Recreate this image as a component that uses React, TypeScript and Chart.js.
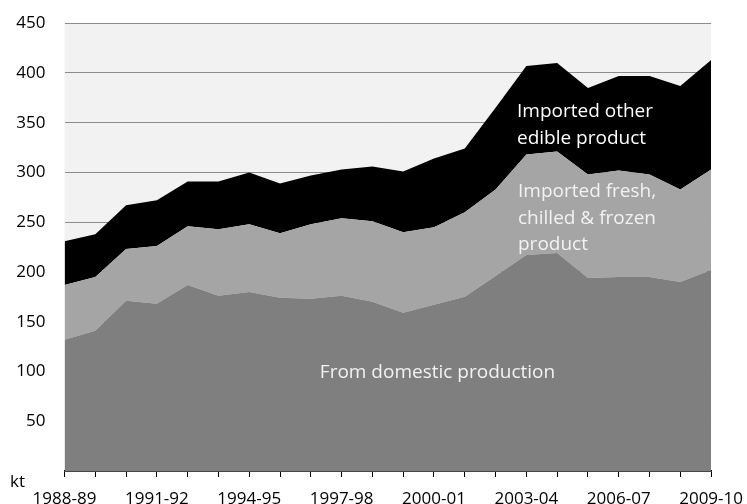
import React, { useEffect, useRef } from "react";
import { Chart, registerables } from "chart.js";

Chart.register(...registerables);

const years = [
  "1988-89", "1989-90", "1990-91", "1991-92", "1992-93", "1993-94", "1994-95", "1995-96",
  "1996-97", "1997-98", "1998-99", "1999-00", "2000-01", "2001-02", "2002-03", "2003-04",
  "2004-05", "2005-06", "2006-07", "2007-08", "2008-09", "2009-10",
];

const domestic = [132, 141, 171, 168, 187, 176, 180, 174, 173, 176, 170, 159, 167, 175, 196, 217, 219, 194, 195, 195, 190, 202];
const freshChilledFrozen = [55, 54, 52, 58, 59, 67, 68, 65, 75, 78, 81, 81, 78, 85, 87, 101, 102, 104, 107, 103, 93, 101];
const otherEdible = [44, 43, 44, 46, 45, 48, 52, 50, 49, 49, 55, 61, 69, 64, 82, 89, 89, 87, 95, 99, 104, 110];

const FONT = "'Open Sans', sans-serif";
const SHIFT_Y = 6;
const EXTRA_W = 8;

const labelsPlugin = {
  id: "areaLabels",
  beforeDraw(chart: any) {
    const { ctx, chartArea } = chart;
    ctx.save();
    ctx.fillStyle = "#f2f2f2";
    ctx.fillRect(chartArea.left, chartArea.top, chartArea.right - chartArea.left, chartArea.bottom - chartArea.top);
    ctx.restore();
  },
  afterDatasetsDraw(chart: any) {
    const { ctx } = chart;
    ctx.save();
    ctx.translate(0, SHIFT_Y);
    ctx.font = `19px ${FONT}`;
    ctx.textBaseline = "alphabetic";
    ctx.fillStyle = "#ffffff";
    ctx.textAlign = "left";
    ctx.fillText("Imported other", 517, 117);
    ctx.fillText("edible product", 517, 143.5);
    ctx.fillStyle = "#f2f2f2";
    ctx.fillText("Imported fresh,", 518, 197);
    ctx.fillText("chilled & frozen", 518, 223.5);
    ctx.fillText("product", 518, 250);
    ctx.textAlign = "center";
    ctx.fillText("From domestic production", 437.5, 377.5);
    ctx.fillStyle = "#000000";
    ctx.textAlign = "left";
    ctx.font = `17px ${FONT}`;
    ctx.fillText("kt", 10, 487);
    ctx.restore();
  },
};

export default function App() {
  const ref = useRef<HTMLCanvasElement>(null);
  useEffect(() => {
    if (!ref.current) return;
    const chart = new Chart(ref.current, {
      type: "line",
      data: {
        labels: years,
        datasets: [
          {
            label: "From domestic production",
            data: domestic,
            backgroundColor: "#7f7f7f",
            borderWidth: 0,
            pointRadius: 0,
            fill: "origin",
          },
          {
            label: "Imported fresh, chilled & frozen product",
            data: freshChilledFrozen,
            backgroundColor: "#a5a5a5",
            borderWidth: 0,
            pointRadius: 0,
            fill: "-1",
          },
          {
            label: "Imported other edible product",
            data: otherEdible,
            backgroundColor: "#000000",
            borderWidth: 0,
            pointRadius: 0,
            fill: "-1",
          },
        ],
      },
      options: {
        responsive: false,
        animation: false,
        devicePixelRatio: 1,
        layout: { padding: { left: 0, right: 30, top: 16, bottom: 0 } },
        plugins: { legend: { display: false }, tooltip: { enabled: false } },
        elements: { line: { tension: 0 } },
        scales: {
          x: {
            offset: false,
            grid: {
              display: true,
              drawOnChartArea: false,
              drawTicks: true,
              tickLength: 6,
              color: "#000000",
              lineWidth: 1,
            },
            border: { display: true, color: "#000000", width: 1.5 },
            ticks: {
              autoSkip: false,
              maxRotation: 0,
              minRotation: 0,
              padding: 12,
              color: "#000000",
              font: { family: FONT, size: 17 },
              callback: (_v: any, i: number) => (i % 3 === 0 ? years[i] : ""),
            },
            afterFit: (scale: any) => {
              scale.height = 33;
            },
          },
          y: {
            stacked: true,
            min: 0,
            max: 450,
            grid: { color: "#8c8c8c", lineWidth: 1, drawTicks: false },
            border: { display: false },
            ticks: {
              stepSize: 50,
              padding: 19,
              color: "#000000",
              font: { family: FONT, size: 17 },
              callback: (v: any) => (v === 0 ? "" : String(v)),
            },
            afterFit: (scale: any) => {
              scale.width = 64.5;
            },
          },
        },
      },
      plugins: [labelsPlugin],
    });
    return () => chart.destroy();
  }, []);
  return (
    <div style={{ position: "absolute", left: 0, top: 0, width: 747, height: 504, overflow: "hidden", background: "#ffffff" }}>
      <canvas
        ref={ref}
        width={747 + EXTRA_W}
        height={504 + SHIFT_Y}
        style={{ display: "block", marginTop: -SHIFT_Y }}
      />
    </div>
  );
}
